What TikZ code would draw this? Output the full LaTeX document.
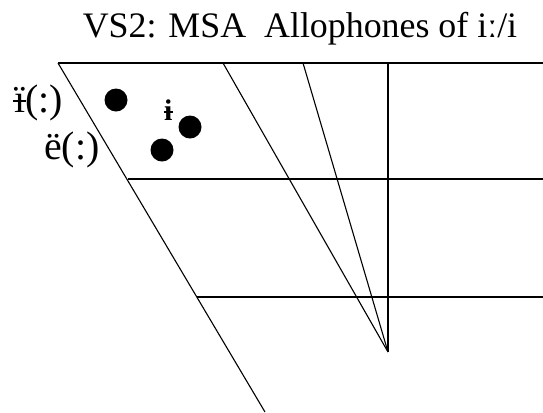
\documentclass[tikz,border=0pt]{standalone}
\usepackage{fontspec}
\setmainfont{Liberation Serif}
\usetikzlibrary{positioning}
% i with a bar through it
\newcommand{\barred}[1]{\ooalign{#1\cr\hidewidth\rule[0.24em]{0.32em}{0.05em}\hidewidth\cr}}

\begin{document}
\begin{tikzpicture}[
  x=1bp, y=-1bp,
  chart/.style={draw=black, line width=1.1bp},
  vowel/.style={circle, fill=black, inner sep=0pt, minimum size=23bp},
  vlabel/.style={font=\fontsize{40}{42}\selectfont, inner sep=0pt, anchor=base west},
  small/.style={font=\fontsize{30}{32}\selectfont\bfseries, inner sep=0pt, anchor=base west}
]
  \useasboundingbox (0,0) rectangle (543,412);

  % Title
  \node[font=\fontsize{36}{40}\selectfont, inner sep=0pt, anchor=base] (title) at (300,37) {VS2: MSA~ Allophones of iː/i};

  % Chart corners
  \coordinate (tl) at (58,63);
  \coordinate (tr) at (543,63);
  \coordinate (ml) at (128,179);
  \coordinate (mr) at (543,179);
  \coordinate (bl) at (197,297);
  \coordinate (br) at (543,297);
  \coordinate (foot) at (265,412);
  \coordinate (ta) at (223,63);
  \coordinate (tb) at (303,63);
  \coordinate (tc) at (388,63);
  \coordinate (apex) at (388,352);

  % Grid
  \draw[chart] (tl) -- (tr);
  \draw[chart] (ml) -- (mr);
  \draw[chart] (bl) -- (br);
  \draw[chart] (tl) -- (foot);
  \draw[chart] (tc) -- (apex);
  \draw[chart] (ta) -- (apex);
  \draw[chart] (tb) -- (apex);

  % Vowels
  \node[vowel] (v1) at (116,100) {};
  \node[vowel] (v2) at (190,127) {};
  \node[vowel] (v3) at (162,150) {};

  % Labels
  \node[vlabel] (l1) at (14,112) {\barred{ï}(:)};
  \node[vlabel] (l2) at (44,159) {ë(:)};
  \node[small] (l3) at (164,120) {\barred{i}};

\end{tikzpicture}
\end{document}
